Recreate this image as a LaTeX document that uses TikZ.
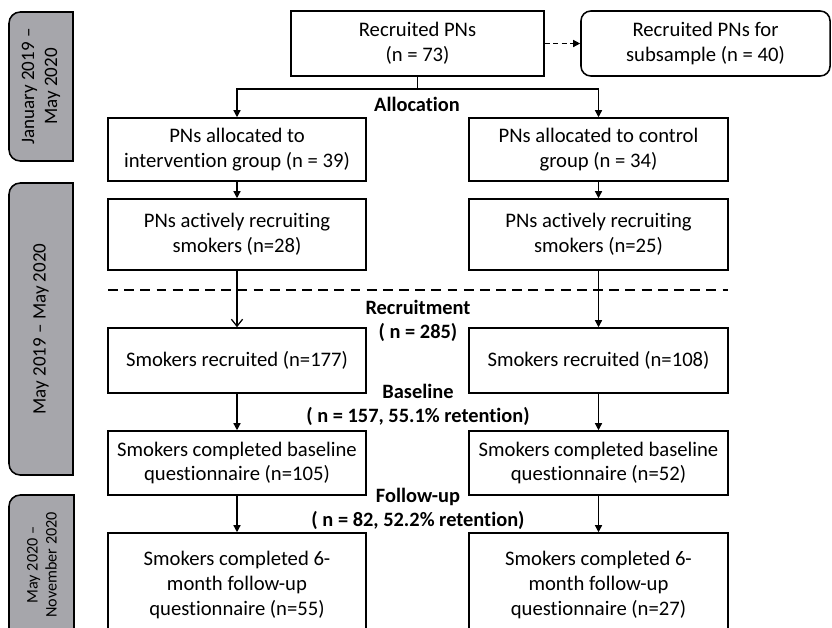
\documentclass[tikz,border=0pt]{standalone}
\usepackage{fontspec}
\setmainfont{Carlito}[Ligatures=NoCommon]
\usetikzlibrary{arrows.meta}

\definecolor{bargray}{RGB}{166,166,171}

\tikzset{
  flowbox/.style={draw, line width=1.1pt, align=center, inner sep=2pt,
    font=\fontsize{14.7}{17.6}\selectfont},
  leftcol/.style={flowbox, minimum width=6.45cm},
  rightcol/.style={flowbox, minimum width=6.475cm},
  phase/.style={align=center, font=\bfseries\fontsize{14.5}{17}\selectfont},
  flow/.style={line width=0.9pt, -{Triangle[length=5pt,width=5pt]}},
  flowopen/.style={line width=0.9pt, -{Straight Barb[length=5pt,width=8pt]}},
  period/.style={line width=1.1pt, fill=bargray, draw, rounded corners=8pt},
  periodedge/.style={line width=1.1pt, line cap=rect},
  periodtext/.style={rotate=90, align=center, font=\fontsize{13.5}{16.5}\selectfont},
}

\begin{document}
\begin{tikzpicture}[x=0.025cm, y=-0.025cm]

\clip (0,0) rectangle (832,627);

% time periods
\draw[period] (73,12) -- (9,12) -- (9,161) -- (73,161);
\draw[periodedge] (73,12) -- (73,161);
\draw[period] (73,183) -- (9,183) -- (9,475) -- (73,475);
\draw[periodedge] (73,183) -- (73,475);
\draw[period] (74,495) -- (9,495) -- (9,640) -- (74,640);
\draw[periodedge] (74,495) -- (74,640);
\node[periodtext] (period1) at (41,86.5) {January 2019 –\\May 2020};
\node[periodtext] (period2) at (41,329) {May 2019 – May 2020};
\node[periodtext, font=\fontsize{11.5}{13.5}\selectfont] (period3) at (42,565) {May 2020 –\\November 2020};

% PNs
\node[flowbox, minimum width=6.325cm, minimum height=1.625cm] (pns) at (417.5,43.5) {Recruited PNs\\(n = 73)};
\node[flowbox, rounded corners=7pt, minimum width=6.225cm, minimum height=1.625cm] (subsample) at (705.5,43.5) {Recruited PNs for\\subsample (n = 40)};
\draw[flow, dash pattern=on 3.5pt off 2.5pt] (pns) -- (subsample);

\node[leftcol, minimum height=1.575cm] (allocI) at (237,149.5) {PNs allocated to\\intervention group (n = 39)};
\node[rightcol, minimum height=1.575cm] (allocC) at (598.5,149.5) {PNs allocated to control\\group (n = 34)};
\node[phase] (allocation) at (417,104) {Allocation};

\coordinate (split) at (417.5,89);
\draw[line width=0.9pt] (pns.south) -- (split);
\draw[flow] (split) -| (allocI.north);
\draw[flow] (split) -| (allocC.north);

\node[leftcol, minimum height=1.775cm] (activeI) at (237,234.5) {PNs actively recruiting\\smokers (n=28)};
\node[rightcol, minimum height=1.775cm] (activeC) at (598.5,234.5) {PNs actively recruiting\\smokers (n=25)};
\draw[flow] (allocI) -- (activeI);
\draw[flow] (allocC) -- (activeC);

\draw[line width=0.9pt, dash pattern=on 7pt off 4.5pt] (108,290) -- (728,290);

% smokers
\node[leftcol, minimum height=1.625cm] (recruitI) at (237,360.5) {Smokers recruited (n=177)};
\node[rightcol, minimum height=1.625cm] (recruitC) at (598.5,360.5) {Smokers recruited (n=108)};
\node[phase] (recruitment) at (418,321) {Recruitment\\( n = 285)};
\draw[flowopen] (activeI) -- (recruitI);
\draw[flow] (activeC) -- (recruitC);

\node[leftcol, minimum height=1.6cm] (baseI) at (237,463) {Smokers completed baseline\\questionnaire (n=105)};
\node[rightcol, minimum height=1.6cm] (baseC) at (598.5,463) {Smokers completed baseline\\questionnaire (n=52)};
\node[phase] (baseline) at (418,404.5) {Baseline\\( n = 157, 55.1\% retention)};
\draw[flow] (recruitI) -- (baseI);
\draw[flow] (recruitC) -- (baseC);

\node[leftcol, minimum height=2.6cm] (followI) at (237,585) {Smokers completed 6-\\month follow-up\\questionnaire (n=55)};
\node[rightcol, minimum height=2.6cm] (followC) at (598.5,585) {Smokers completed 6-\\month follow-up\\questionnaire (n=27)};
\node[phase] (followup) at (418,508.5) {Follow-up\\( n = 82, 52.2\% retention)};
\draw[flow] (baseI) -- (followI);
\draw[flow] (baseC) -- (followC);

\end{tikzpicture}
\end{document}
